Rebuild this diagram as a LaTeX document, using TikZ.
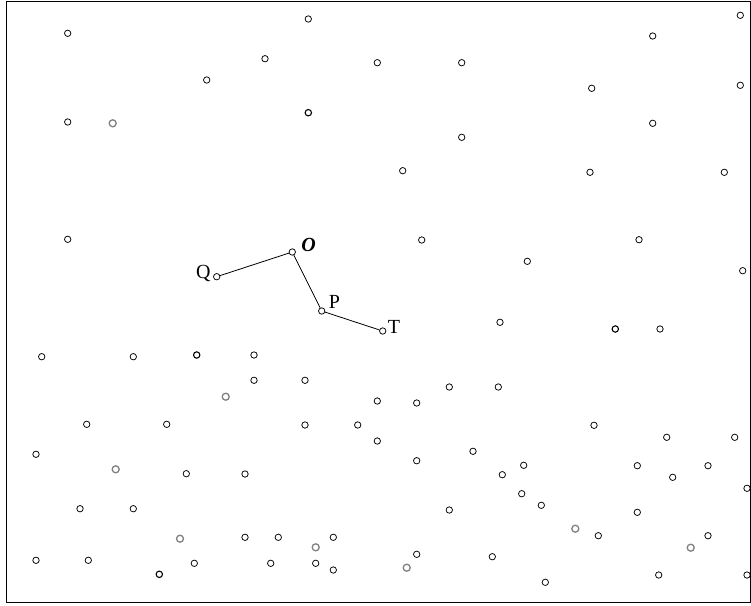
\documentclass[tikz,border=0pt]{standalone}
\usepackage{fontspec}
\setmainfont{Liberation Serif}
\usetikzlibrary{positioning}

\begin{document}
\begin{tikzpicture}[
  x=1pt, y=-1pt,
  every node/.style={font=\fontsize{20}{22}\selectfont},
  dot/.style={circle, draw=black, line width=0.75pt, inner sep=0pt, minimum size=6.4pt},
  hdot/.style={dot, line width=1.1pt},
  gdot/.style={dot, draw=black!50, line width=1.3pt, minimum size=7pt},
  lnk/.style={draw=black, line width=0.8pt}
]
\useasboundingbox (0,0) rectangle (751,605);
\node[draw, line width=0.8pt, minimum width=743.5pt, minimum height=601pt,
      inner sep=0pt, anchor=north west] (frame) at (6,1) {};

% scattered points
\foreach \x/\y [count=\i] in {
  67.7/33.3, 308.3/19, 740.3/15.3, 652.7/36, 265/58.7, 377.3/62.7, 461.7/62.7,
  206.7/80, 591.7/88.3, 740.3/85.3, 67.7/122, 652.7/123.3, 461.7/137.3,
  402.7/170.7, 590/172.3, 724.3/172.3, 67.7/239.3, 421.7/240, 639/239.7,
  527.3/261.3, 742.7/270.7, 500/322.3, 660/329, 41.7/356.7, 133.3/356.7,
  254/355, 254/380.3, 305/380.3, 449.3/387, 498.3/387, 377.3/401, 416.7/403,
  86.7/424.3, 166.7/424.3, 305/425, 357.7/425, 594/425.3, 666.7/437.3,
  734.7/437.3, 377.3/441, 36/454.3, 473/451.3, 416.7/460.7, 186.3/473.7,
  245/474, 502.3/474.7, 523.7/465.3, 637.3/465.7, 708/465.7, 672.7/477.3,
  747/488.3, 521.7/493.7, 541.3/505.3, 80/508.7, 133.3/508.7, 449.3/510,
  637.3/512.3, 598.3/535.7, 245/537.3, 278.3/537.3, 333.3/537.3, 708/535.7,
  36/560.3, 88.3/560.3, 194.3/563.3, 270.7/563.3, 315.7/563.3, 333.3/570,
  416.7/554.3, 492.3/556.7, 545.3/582.3, 658.7/575, 747/575}
  \node[dot] (p\i) at (\x,\y) {};

% heavier points
\node[hdot] (h1) at (308.3,112.7) {};
\node[hdot] (h2) at (615.3,329) {};
\node[hdot] (h3) at (196.7,355) {};
\node[hdot] (h4) at (159.3,574.3) {};

% grey points
\foreach \x/\y [count=\i] in {
  112.7/123.3, 225.7/396.7, 115.7/469.3, 575.3/528.7, 180/538.7,
  315.7/547.3, 690.7/547.7, 406.7/567.7}
  \node[gdot] (g\i) at (\x,\y) {};

% path
\node[dot] (o) at (292.3,252) {};
\node[dot] (q) at (216.7,276.7) {};
\node[dot] (p) at (321.7,311) {};
\node[dot] (t) at (382.7,331) {};

\node[font=\fontsize{20}{22}\selectfont\bfseries\itshape, above right=-6pt and 3pt of o] (olab) {O};
\node[left=-1pt of q, yshift=3pt] (qlab) {Q};
\node[above right=-4pt and 1pt of p] (plab) {P};
\node[right=-2pt of t, yshift=4pt] (tlab) {T};

\draw[lnk] (q) -- (o);
\draw[lnk] (o) -- (p);
\draw[lnk] (p) -- (t);
\end{tikzpicture}
\end{document}
